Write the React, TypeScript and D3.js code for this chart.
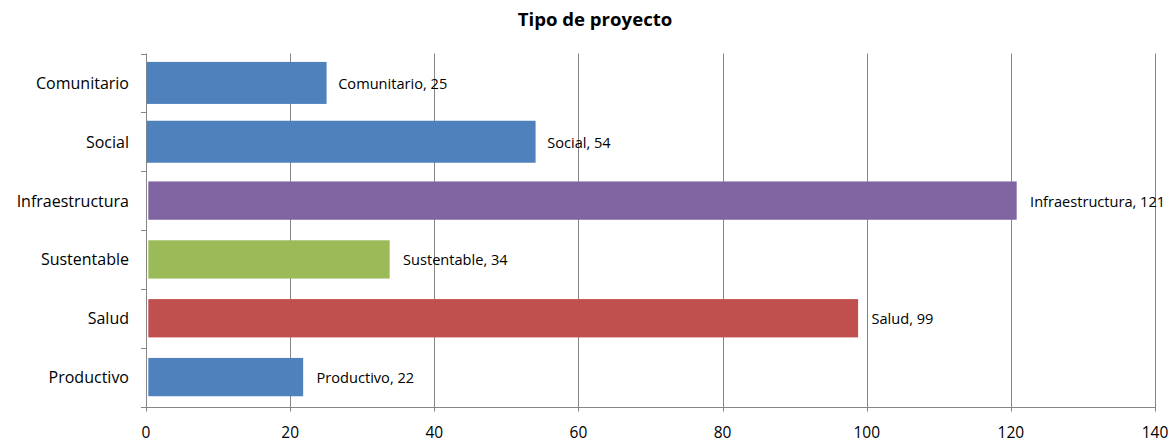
import React from "react";
import * as d3 from "d3";

const categories = ["Comunitario", "Social", "Infraestructura", "Sustentable", "Salud", "Productivo"];
const values = [25, 54, 121, 34, 99, 22];
const colors = ["#4F81BD", "#4F81BD", "#8064A2", "#9BBB59", "#C0504D", "#4F81BD"];
const seriesGroup = ["A", "A", "B", "B", "B", "B"];
const xTicks = [0, 20, 40, 60, 80, 100, 120, 140];
const title = "Tipo de proyecto";

const W = 1174, H = 442;
const left = 146, right = 1155, top = 53.5, bottom = 406.5;
const FONT = "'Open Sans', 'Liberation Sans', sans-serif";

export default function App() {
  const x = d3.scaleLinear().domain([0, 140]).range([left, right]);
  const y = d3.scaleBand<string>().domain(categories).range([top, bottom]);
  const step = y.step();
  const grid = "#868686";
  const barStyle = (g: string) =>
    g === "A" ? { h: 42, x0: 0.8, x1: 0.4 } : { h: 38.3, x0: 2.3, x1: -1.4 };
  return (
    <svg width={W} height={H} style={{ position: "absolute", left: 0, top: 0 }}>
      <rect width={W} height={H} fill="#fff" />
      <text x={595} y={18} dominantBaseline="central" textAnchor="middle" fontFamily={FONT} fontWeight="bold" fontSize={18.6}>{title}</text>
      {xTicks.map((t) => (
        <line key={"g" + t} x1={Math.round(x(t)) + 0.5} x2={Math.round(x(t)) + 0.5} y1={top} y2={bottom + 5} stroke={grid} strokeWidth={1} />
      ))}
      <line x1={left - 5} x2={right} y1={Math.round(bottom) + 0.5} y2={Math.round(bottom) + 0.5} stroke={grid} />
      {categories.map((c, i) => (
        <line key={"yt" + i} x1={left - 5} x2={left} y1={Math.round(top + i * step) + 0.5} y2={Math.round(top + i * step) + 0.5} stroke={grid} />
      ))}
      {categories.map((c, i) => {
        const s = barStyle(seriesGroup[i]);
        const cy = y(c)! + step / 2;
        const x0 = x(0) + s.x0;
        const x1 = x(values[i]) + s.x1;
        return (
          <g key={c}>
            <rect x={x0} y={cy - s.h / 2} width={x1 - x0} height={s.h} fill={colors[i]} />
            <text x={x(values[i]) + 12} y={cy} dominantBaseline="central" fontFamily={FONT} fontSize={14.6} fill="#000">{`${c}, ${values[i]}`}</text>
            <text x={left - 17} y={cy} dominantBaseline="central" textAnchor="end" fontFamily={FONT} fontSize={16} fill="#000">{c}</text>
          </g>
        );
      })}
      {xTicks.map((t) => (
        <text key={"xl" + t} x={x(t)} y={432} dominantBaseline="central" textAnchor="middle" fontFamily={FONT} fontSize={15.5}>{t}</text>
      ))}
    </svg>
  );
}
